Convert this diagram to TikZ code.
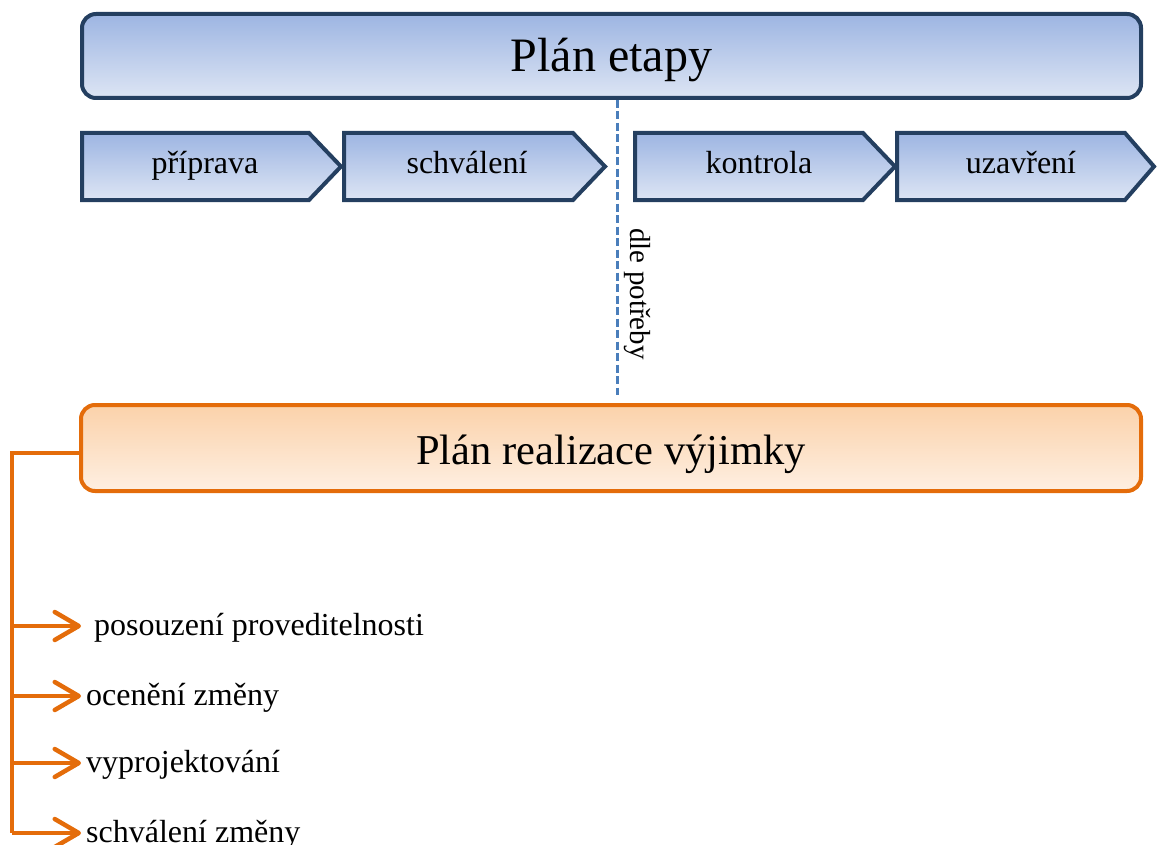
\documentclass[tikz,border=0pt]{standalone}
\usepackage{fontspec}
\setmainfont{Liberation Serif}
\usetikzlibrary{arrows.meta}

\definecolor{navy}{HTML}{243F60}
\definecolor{bluetop}{HTML}{9DB5E2}
\definecolor{bluebot}{HTML}{DDE5F4}
\definecolor{orng}{HTML}{E46C0A}
\definecolor{orngtop}{HTML}{FBD2AA}
\definecolor{orngbot}{HTML}{FEEFE2}
\definecolor{dashblue}{HTML}{4A7EBB}

\tikzset{
  phasebox/.style={draw=navy, line width=4pt, rounded corners=14pt,
    top color=bluetop, bottom color=bluebot, inner sep=0pt,
    minimum width=1059pt, minimum height=84pt,
    text height=32pt, text depth=0pt, font=\fontsize{48}{54}\selectfont},
  exceptbox/.style={draw=orng, line width=4pt, rounded corners=14pt,
    top color=orngtop, bottom color=orngbot, inner sep=0pt,
    minimum width=1060pt, minimum height=86pt,
    text height=32pt, text depth=0pt, font=\fontsize{42.5}{48}\selectfont},
  chevron/.style={draw=navy, line width=4pt, line join=miter,
    top color=bluetop, bottom color=bluebot},
  chevlabel/.style={anchor=base, inner sep=0pt, font=\fontsize{32}{38}\selectfont},
  sidelabel/.style={anchor=base, inner sep=0pt, rotate=-90,
    font=\fontsize{29}{34}\selectfont},
  divider/.style={draw=dashblue, line width=3pt, dash pattern=on 8pt off 3.5pt},
  trunkline/.style={draw=orng, line width=4pt},
  branch/.style={draw=orng, line width=4pt,
    -{Straight Barb[length=24pt, width=28pt, line width=4.5pt, round]}},
  item/.style={anchor=west, inner sep=0pt, text height=24pt, text depth=5pt,
    font=\fontsize{32}{38}\selectfont}
}

\begin{document}
\begin{tikzpicture}[x=1pt, y=-1pt]
\useasboundingbox (0,0) rectangle (1158,845);

% stage plan and its phases
\node[phasebox] (etapa) at (611.5,56) {Plán etapy};

\path[chevron] (82,133) -- (309,133) -- (341,166.5) -- (309,200) -- (82,200) -- cycle;
\path[chevron] (344,133) -- (573,133) -- (605,166.5) -- (573,200) -- (344,200) -- cycle;
\path[chevron] (635,133) -- (863,133) -- (895,166.5) -- (863,200) -- (635,200) -- cycle;
\path[chevron] (897,133) -- (1125,133) -- (1154,166.5) -- (1125,200) -- (897,200) -- cycle;

\node[chevlabel] (priprava) at (205,174) {příprava};
\node[chevlabel] (schvaleni) at (467,174) {schválení};
\node[chevlabel] (kontrola) at (759,174) {kontrola};
\node[chevlabel] (uzavreni) at (1021,174) {uzavření};

% optional link to the exception plan
\coordinate (dashend) at (617,395);
\draw[divider] ([xshift=5.5pt]etapa.south) -- (dashend);
\node[sidelabel] (potreba) at (630,294) {dle potřeby};

% exception plan and its steps
\node[exceptbox] (realizace) at (611,448) {Plán realizace výjimky};

\node[item] (posouzeni) at (86,626) {\ posouzení proveditelnosti};
\node[item] (oceneni) at (86,696) {ocenění změny};
\node[item] (projekt) at (86,763) {vyprojektování};
\node[item] (zmena) at (86,833) {schválení změny};

\coordinate (trunk) at (12,453);
\draw[trunkline] ([yshift=-5pt]realizace.west) -- (trunk) -- (trunk |- zmena.west);

\foreach \n in {posouzeni,oceneni,projekt,zmena}
  \draw[branch] (trunk |- \n.west) -- ([xshift=-5pt]\n.west);
\end{tikzpicture}
\end{document}
